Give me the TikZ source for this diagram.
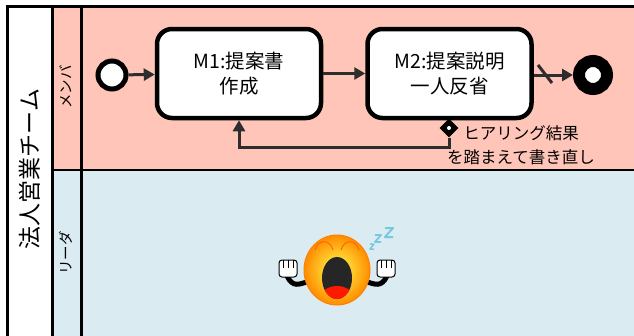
\documentclass[tikz,border=0pt]{standalone}
\usepackage{fontspec}
\setmainfont{Noto Sans CJK JP}
\usetikzlibrary{arrows.meta,positioning,shapes.geometric}
\definecolor{lanepink}{RGB}{255,197,184}
\definecolor{laneblue}{RGB}{218,236,242}
\definecolor{flowgray}{RGB}{45,45,45}
\definecolor{zzblue}{RGB}{120,200,225}
\tikzset{
  task/.style={draw, line width=4.5pt, rounded corners=15pt, fill=white,
    minimum width=164pt, minimum height=89pt, align=center,
    font=\fontsize{19.5}{25}\selectfont},
  flow/.style={draw=flowgray, line width=3pt, -{Triangle[length=11pt,width=12pt]}},
  lanetitle/.style={rotate=90, font=\fontsize{14.5}{16}\selectfont},
}
\begin{document}
\begin{tikzpicture}[x=1pt,y=-1pt]
    \useasboundingbox (0,0) rectangle (634,335);
    \clip (0,0) rectangle (634,335);
    % Lanes
    \fill[white] (0,0) rectangle (634,335);
    \fill[lanepink] (52,7) rectangle (640,170);
    \fill[laneblue] (52,170) rectangle (640,340);
    \draw[line width=3pt] (7,340) -- (7,6.5) -- (640,6.5);
    \draw[line width=3pt] (52,6.5) -- (52,340);
    \draw[line width=3pt] (81,6.5) -- (81,340);
    \draw[line width=2.5pt] (52,170) -- (640,170);
    \node[rotate=90, font=\fontsize{23}{26}\selectfont] (team) at (30,169) {法人営業チーム};
    \node[lanetitle] (member) at (66,87) {メンバ};
    \node[lanetitle] (leader) at (66,253) {リーダ};
    % Events and tasks
    \node[circle, draw, line width=5pt, fill=white, minimum size=28pt, inner sep=0pt] (start) at (112,75) {};
    \node[task] (m1) at (239,73.5) {M1:提案書\\作成};
    \node[task] (m2) at (449.5,73.5) {M2:提案説明\\一人反省};
    \node[circle, draw, line width=12pt, fill=white, minimum size=28pt, inner sep=0pt] (end) at (593,75) {};
    % Flows
    \draw[flow] (start) -- (m1);
    \draw[flow] (m1) -- (m2);
    \draw[flow] (m2.east |- end) -- (end);
    \coordinate (cut1) at (538,65);
    \coordinate (cut2) at (552,83);
    \draw[flowgray, line width=3pt] (cut1) -- (cut2);
    % Conditional flow back to M1
    \node[diamond, fill=black, minimum size=19pt, inner sep=0pt] (cond) at (449,128) {};
    \fill[white] (cond) circle (2pt);
    \coordinate (turn) at (449,147);
    \draw[flow] (cond.south) -- (turn) -| (m1.south);
    \node[align=center, font=\fontsize{16.5}{24}\selectfont] (redo) at (521,145.5) {ヒアリング結果\\を踏まえて書き直し};
    % Yawning face
    \begin{scope}[shift={(337,270)}]
      \draw[black, line width=5pt, line cap=round] (-50,6) .. controls (-44,18) and (-38,14) .. (-30,12);
      \draw[black, line width=5pt, line cap=round] (50,6) .. controls (44,18) and (38,14) .. (30,12);
      \shade[inner color=yellow!70!white, outer color=orange!90!yellow, draw=orange, line width=1pt] (0,0) ellipse (33 and 35);
      \draw[orange!80!red, line width=1pt] (-22,-20) .. controls (-19,-31) and (-7,-31) .. (-4,-20);
      \draw[orange!80!red, line width=1pt] (4,-20) .. controls (7,-31) and (19,-31) .. (22,-20);
      \fill[black!85] (0,8) ellipse (15 and 21);
      \begin{scope}
        \clip (0,8) ellipse (15 and 21);
        \fill[red!80!orange] (0,27) ellipse (16 and 11);
      \end{scope}
      \draw[fill=white, line width=1pt, rounded corners=3pt] (-58,-10) rectangle (-40,7);
      \draw[line width=0.6pt] (-54,-10) -- (-54,-2) (-49,-10) -- (-49,-2) (-44,-10) -- (-44,-2);
      \draw[fill=white, line width=1pt, rounded corners=3pt] (40,-10) rectangle (58,7);
      \draw[line width=0.6pt] (54,-10) -- (54,-2) (49,-10) -- (49,-2) (44,-10) -- (44,-2);
      \draw[zzblue, line width=2pt, line join=round] (48,-42) -- (56,-42) -- (48,-33) -- (56,-33);
      \draw[zzblue, line width=1.8pt, line join=round] (38,-35) -- (44,-35) -- (38,-28) -- (44,-28);
      \draw[zzblue, line width=1.5pt, line join=round] (33,-26) -- (37,-26) -- (33,-21) -- (37,-21);
    \end{scope}
\end{tikzpicture}
\end{document}
